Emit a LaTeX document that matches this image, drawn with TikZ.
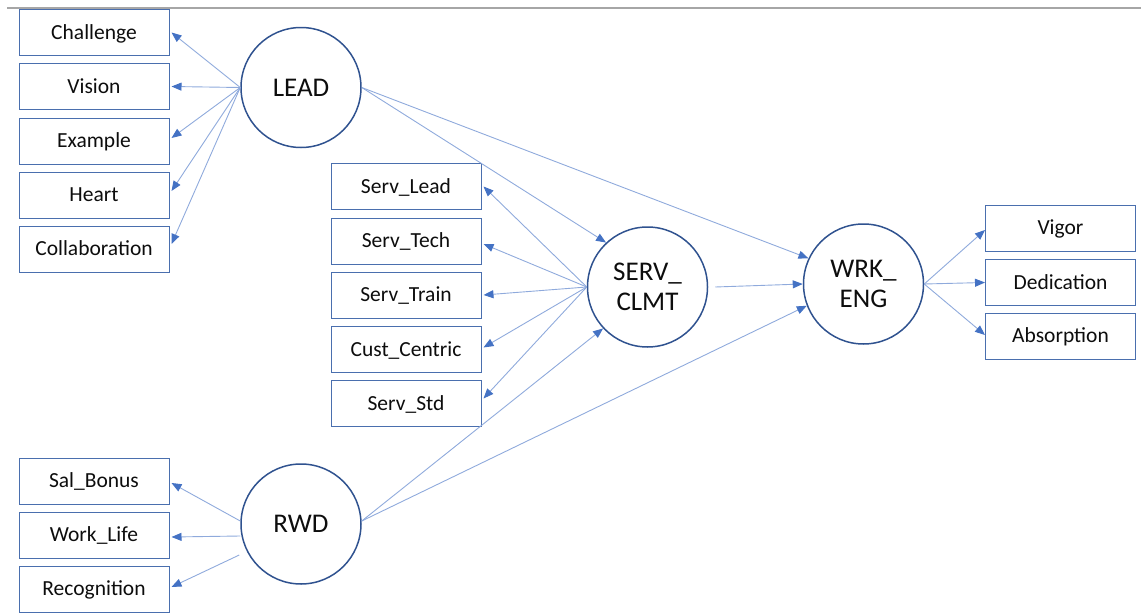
\documentclass[tikz,border=0pt]{standalone}
\usepackage{fontspec}
\setmainfont{Carlito}
\usetikzlibrary{arrows.meta}
\definecolor{connc}{HTML}{8FAADC}
\definecolor{tipc}{HTML}{4472C4}
\definecolor{boxc}{HTML}{4A6FAE}
\definecolor{circc}{HTML}{2F528F}
\definecolor{txtc}{HTML}{0D0D0D}
\definecolor{rulec}{HTML}{A6A6A6}
\begin{document}
\begin{tikzpicture}[x=1pt,y=-1pt,
 ind/.style={draw=boxc, line width=1pt, minimum width=150pt, minimum height=46pt, inner sep=0pt, text height=13.5pt, text depth=0pt, font=\fontsize{21.5}{25}\selectfont, text=txtc},
 lat/.style={circle, draw=circc, line width=1.5pt, minimum size=120pt, inner sep=0pt, align=center, font=\fontsize{27}{30}\selectfont, text=txtc},
 arr/.style={draw=connc, line width=0.9pt, -{Triangle[length=10pt,width=8pt,color=tipc]}}]
\useasboundingbox (0,0) rectangle (1141,613);
\draw[rulec, line width=1.5pt] (7,8) -- (1141,8);
% left indicators
\node[ind] (challenge) at (94,32.5) {Challenge};
\node[ind] (vision) at (94,86.5) {Vision};
\node[ind] (example) at (94,141) {Example};
\node[ind] (heart) at (94,195) {Heart};
\node[ind] (collab) at (94,249) {Collaboration};
% middle indicators
\node[ind] (servlead) at (406,186.5) {Serv\_Lead};
\node[ind] (servtech) at (406,241) {Serv\_Tech};
\node[ind] (servtrain) at (406,295) {Serv\_Train};
\node[ind] (custc) at (406,349.5) {Cust\_Centric};
\node[ind] (servstd) at (406,403.5) {Serv\_Std};
% right indicators
\node[ind] (vigor) at (1060.5,228) {Vigor};
\node[ind] (dedic) at (1060.5,282.5) {Dedication};
\node[ind] (absorp) at (1060.5,336) {Absorption};
% bottom indicators
\node[ind] (salb) at (94,481) {Sal\_Bonus};
\node[ind] (workl) at (94,535) {Work\_Life};
\node[ind] (recog) at (94,589) {Recognition};
% latent
\node[lat] (lead) at (301,87.5) {LEAD};
\node[lat] (serv) at (647.5,287) {SERV\_\\CLMT};
\node[lat] (wrk) at (863.5,284) {WRK\_\\ENG};
\node[lat] (rwd) at (301,524) {RWD};
% LEAD
\draw[arr] (lead.west) -- ([xshift=2pt]challenge.east);
\draw[arr] (lead.west) -- ([xshift=2pt]vision.east);
\draw[arr] (lead.west) -- ([xshift=2pt,yshift=3pt]example.east);
\draw[arr] (lead.west) -- ([xshift=2pt,yshift=4pt]heart.east);
\draw[arr] (lead.west) -- ([xshift=2pt,yshift=5pt]collab.east);
\draw[arr] (lead.east) -- (serv.133);
\draw[arr] (lead.east) -- (wrk.155);
% SERV
\draw[arr] (serv.west) -- ([xshift=2pt]servlead.east);
\draw[arr] (serv.west) -- ([xshift=2pt,yshift=-3pt]servtech.east);
\draw[arr] (serv.west) -- ([xshift=2pt]servtrain.east);
\draw[arr] (serv.west) -- ([xshift=2pt,yshift=2pt]custc.east);
\draw[arr] (serv.west) -- ([xshift=2pt,yshift=5pt]servstd.east);
\draw[arr] ([xshift=7pt]serv.east) -- (wrk.west);
% WRK
\draw[arr] (wrk.east) -- ([yshift=-2pt]vigor.west);
\draw[arr] (wrk.east) -- (dedic.west);
\draw[arr] (wrk.east) -- ([yshift=1pt]absorp.west);
% RWD
\draw[arr] ([yshift=3pt]rwd.west) -- ([xshift=2pt,yshift=-2pt]salb.east);
\draw[arr] ([yshift=-12pt]rwd.west) -- ([xshift=2pt,yshift=-2pt]workl.east);
\draw[arr] ([xshift=-1pt,yshift=-31pt]rwd.west) -- ([xshift=2pt,yshift=2pt]recog.east);
\draw[arr] ([yshift=3pt]rwd.east) -- (serv.223);
\draw[arr] ([yshift=3pt]rwd.east) -- (wrk.201);
\end{tikzpicture}
\end{document}
